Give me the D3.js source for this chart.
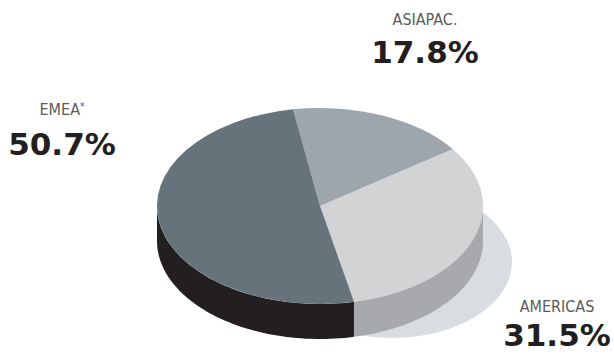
<!DOCTYPE html>
<html>
<head>
    <title>Regional split</title>
    <script src="https://d3js.org/d3.v7.min.js"></script>
    <style>
        body {
            margin: 0;
            padding: 0;
            background-color: #fff;
        }
        .region-name {
            font-family: 'DejaVu Sans Condensed', 'DejaVu Sans', sans-serif;
            font-stretch: condensed;
            font-weight: 300;
            font-size: 16px;
            fill: #5a5a5a;
        }
        .region-share {
            font-family: 'DejaVu Sans', sans-serif;
            font-weight: bold;
            font-size: 31px;
            fill: #231f20;
        }
    </style>
</head>
<body>
    <svg id="chart" width="614" height="355"></svg>

    <script>
        // data
        const regions = ["ASIAPAC.", "AMERICAS", "EMEA"];
        const shares = [17.8, 31.5, 50.7];
        const shareLabels = ["17.8%", "31.5%", "50.7%"];

        const topColors = ["#9ea6ad", "#d1d3d4", "#67737a"];
        const sideColors = ["#7d868d", "#a7a9ac", "#231f20"];

        // where each label block sits (centre x, name baseline, share baseline)
        const labelPos = [
            {x: 425, y1: 25, y2: 63},
            {x: 557, y1: 312, y2: 346},
            {x: 62, y1: 115, y2: 155}
        ];

        const svg = d3.select("#chart");
        const cx = 320, cy = 206, rx = 163, ry = 98, depth = 35;
        const start = -9.5 * Math.PI / 180;

        const pie = d3.pie()
            .sort(null)
            .startAngle(start)
            .endAngle(start + 2 * Math.PI);
        const slices = pie(shares);

        // shadow behind the pie
        svg.append("ellipse")
            .attr("cx", 392)
            .attr("cy", 262)
            .attr("rx", 120)
            .attr("ry", 76)
            .style("fill", "#d7dde1");

        function pt(a, dy) {
            return [cx + rx * Math.sin(a), cy - ry * Math.cos(a) + dy];
        }

        // sides: only the front half (from 90 to 270 degrees) is visible
        const lo = Math.PI / 2, hi = 3 * Math.PI / 2;
        slices.forEach(function(s, i) {
            const a0 = Math.max(s.startAngle, lo);
            const a1 = Math.min(s.endAngle, hi);
            if (a1 <= a0) return;
            const n = 60;
            const top = d3.range(n + 1).map(k => pt(a0 + (a1 - a0) * k / n, 0));
            const bottom = top.slice().reverse().map(p => [p[0], p[1] + depth]);
            svg.append("path")
                .attr("d", d3.line()(top.concat(bottom)) + "Z")
                .style("fill", sideColors[i]);
        });

        // top face: circular arcs squashed into an ellipse
        const arc = d3.arc().innerRadius(0).outerRadius(rx);
        svg.append("g")
            .attr("transform", "translate(" + cx + "," + cy + ") scale(1," + (ry / rx) + ")")
            .selectAll("path")
            .data(slices)
            .join("path")
            .attr("d", arc)
            .style("fill", (d, i) => topColors[i]);

        // labels
        regions.forEach(function(name, i) {
            const p = labelPos[i];
            const t = svg.append("text")
                .attr("class", "region-name")
                .attr("x", p.x)
                .attr("y", p.y1)
                .attr("text-anchor", "middle")
                .text(name);
            if (name == "EMEA") {
                t.append("tspan")
                    .attr("dy", -5)
                    .style("font-size", "10px")
                    .text("*");
            }
            svg.append("text")
                .attr("class", "region-share")
                .attr("x", p.x)
                .attr("y", p.y2)
                .attr("text-anchor", "middle")
                .text(shareLabels[i]);
        });
    </script>
</body>
</html>
